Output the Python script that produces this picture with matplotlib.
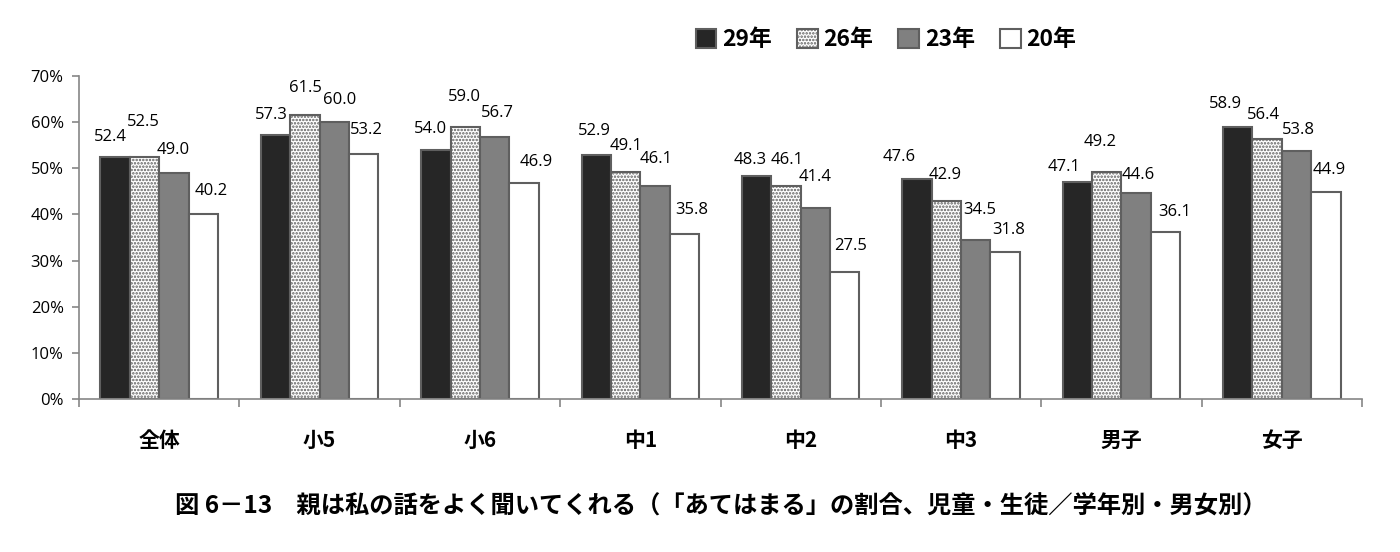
import numpy as np
import matplotlib
matplotlib.use('Agg')
import matplotlib.pyplot as plt
from matplotlib.ticker import FuncFormatter, FixedLocator

plt.rcParams['font.family'] = ['Noto Sans CJK JP', 'DejaVu Sans']
plt.rcParams['hatch.linewidth'] = 1.2

# data
categories = ['全体', '小5', '小6', '中1', '中2', '中3', '男子', '女子']
series_names = ['29年', '26年', '23年', '20年']
v29 = [52.4, 57.3, 54.0, 52.9, 48.3, 47.6, 47.1, 58.9]
v26 = [52.5, 61.5, 59.0, 49.1, 46.1, 42.9, 49.2, 56.4]
v23 = [49.0, 60.0, 56.7, 46.1, 41.4, 34.5, 44.6, 53.8]
v20 = [40.2, 53.2, 46.9, 35.8, 27.5, 31.8, 36.1, 44.9]
values = [v29, v26, v23, v20]
title = '図 6－13　親は私の話をよく聞いてくれる（「あてはまる」の割合、児童・生徒／学年別・男女別）'

# style
faces = ['#262626', 'white', '#808080', 'white']
hatches = [None, '.....', None, None]
edge = '#5f5f5f'
num_font = 'Open Sans'
# label offsets in pixels (dx, dy) as placed in the original
offsets = [
    [(-5, -20), (-4, -20), (-5, -21), (-2, -24), (-6, -16), (-18, -22), (-13, -15), (-12, -23)],
    [(-1, -35), (1, -27), (-1, -30), (0, -26), (1, -26), (-1, -26), (-7, -30), (-4, -24)],
    [(-1, -23), (5, -22), (3, -24), (1, -27), (0, -31), (4, -30), (2, -18), (2, -21)],
    [(8, -23), (3, -24), (12, -21), (7, -24), (6, -26), (4, -22), (9, -20), (3, -22)],
]

fig = plt.figure(figsize=(14, 5.52), dpi=100)
ax = fig.add_axes([79 / 1400, 1 - 399 / 552, (1362 - 79) / 1400, (399 - 76) / 552])

x = np.arange(len(categories))
w = 0.183
px = 0.72  # points per pixel
for k, (name, vals) in enumerate(zip(series_names, values)):
    xs = x + (k - 1.5) * w
    ax.bar(xs, vals, w, color=faces[k], edgecolor=edge, linewidth=1.5,
           hatch=hatches[k], label=name, zorder=2)
    for j, (xx, v) in enumerate(zip(xs, vals)):
        dx, dy = offsets[k][j]
        ax.annotate(f'{v:.1f}', (xx, v), xytext=(dx * px, -dy * px),
                    textcoords='offset points', ha='center', va='center',
                    fontsize=12, family=num_font, color='black')

ax.set_xlim(-0.5, len(categories) - 0.5)
ax.set_ylim(0, 70)
ax.set_yticks(np.arange(0, 71, 10))
ax.yaxis.set_major_formatter(FuncFormatter(lambda v, p: f'{v:.0f}%'))
for t in ax.get_yticklabels():
    t.set_family(num_font)
ax.set_xticks(x)
ax.set_xticklabels(categories, fontsize=15, fontweight='bold')
ax.xaxis.set_minor_locator(FixedLocator(np.arange(-0.5, len(categories), 1)))
ax.tick_params(axis='x', which='major', length=0, pad=22)
ax.tick_params(axis='x', which='minor', length=6, color='#868686', width=1.2)
ax.tick_params(axis='y', length=5, color='#868686', width=1.2, labelsize=12, pad=6)
for s in ['top', 'right']:
    ax.spines[s].set_visible(False)
for s in ['left', 'bottom']:
    ax.spines[s].set_color('#868686')
    ax.spines[s].set_linewidth(1.2)

fig.legend(loc='center', bbox_to_anchor=(886 / 1400, 1 - 40 / 552), ncol=4,
           frameon=False, handlelength=0.9, handleheight=0.9, handletextpad=0.25,
           columnspacing=1.1, prop={'size': 16.5, 'weight': 'bold'})

fig.text(721 / 1400, 1 - 507 / 552, title, ha='center', va='center',
         fontsize=17.5, fontweight='bold')

fig.savefig('out.png', dpi=100)
